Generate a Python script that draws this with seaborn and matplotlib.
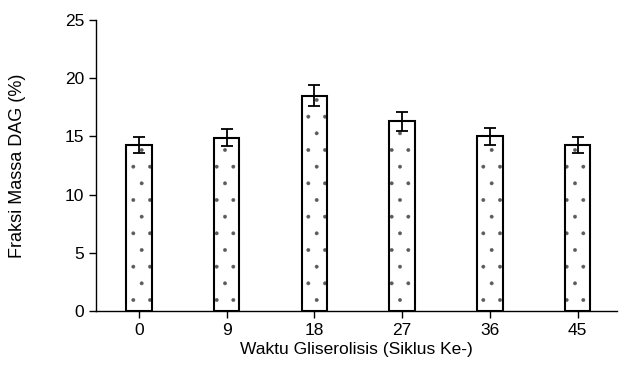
import pandas as pd
import matplotlib
matplotlib.use('Agg')
import matplotlib.pyplot as plt
import seaborn as sns

# Data
cycles = ['0', '9', '18', '27', '36', '45']
dag = [14.25, 14.9, 18.5, 16.3, 15.0, 14.25]
dag_err = [0.7, 0.7, 0.9, 0.8, 0.75, 0.7]

df = pd.DataFrame({'cycle': cycles, 'dag': dag})

sns.set_style('ticks')
plt.rcParams['font.family'] = ['Liberation Sans', 'DejaVu Sans']
plt.rcParams['text.color'] = 'black'
plt.rcParams['axes.labelcolor'] = 'black'
plt.rcParams['xtick.color'] = 'black'
plt.rcParams['ytick.color'] = 'black'
plt.rcParams['hatch.linewidth'] = 0.3

fig, ax = plt.subplots(figsize=(6.19, 3.74), dpi=100)
fig.subplots_adjust(left=0.155, right=0.997, bottom=0.168, top=0.947)

# dotted fill (hatch takes the edge colour, so draw it in grey first)
sns.barplot(data=df, x='cycle', y='dag', color='white', edgecolor='#5a5a5a',
            linewidth=0, width=0.29, errorbar=None, ax=ax)
for bar in ax.patches:
    bar.set_hatch('.')
# black outlines on top
sns.barplot(data=df, x='cycle', y='dag', fill=False, edgecolor='black',
            linewidth=1.5, width=0.29, errorbar=None, ax=ax)

ax.errorbar(range(len(cycles)), dag, yerr=dag_err, fmt='none', ecolor='black',
            elinewidth=1.3, capsize=4, capthick=1.3)

ax.set_ylim(0, 25)
ax.set_yticks([0, 5, 10, 15, 20, 25])
ax.set_xlim(-0.49, 5.45)
ax.set_xlabel('Waktu Gliserolisis (Siklus Ke-)', fontsize=12.5, labelpad=3)
ax.set_ylabel('Fraksi Massa DAG (%)', fontsize=13, labelpad=28)
ax.tick_params(labelsize=12.5, length=5, width=1, color='black', labelcolor='black')
for side in ['top', 'right']:
    ax.spines[side].set_visible(False)
for side in ['left', 'bottom']:
    ax.spines[side].set_color('black')
    ax.spines[side].set_linewidth(1)

plt.savefig('out.png', dpi=100)
